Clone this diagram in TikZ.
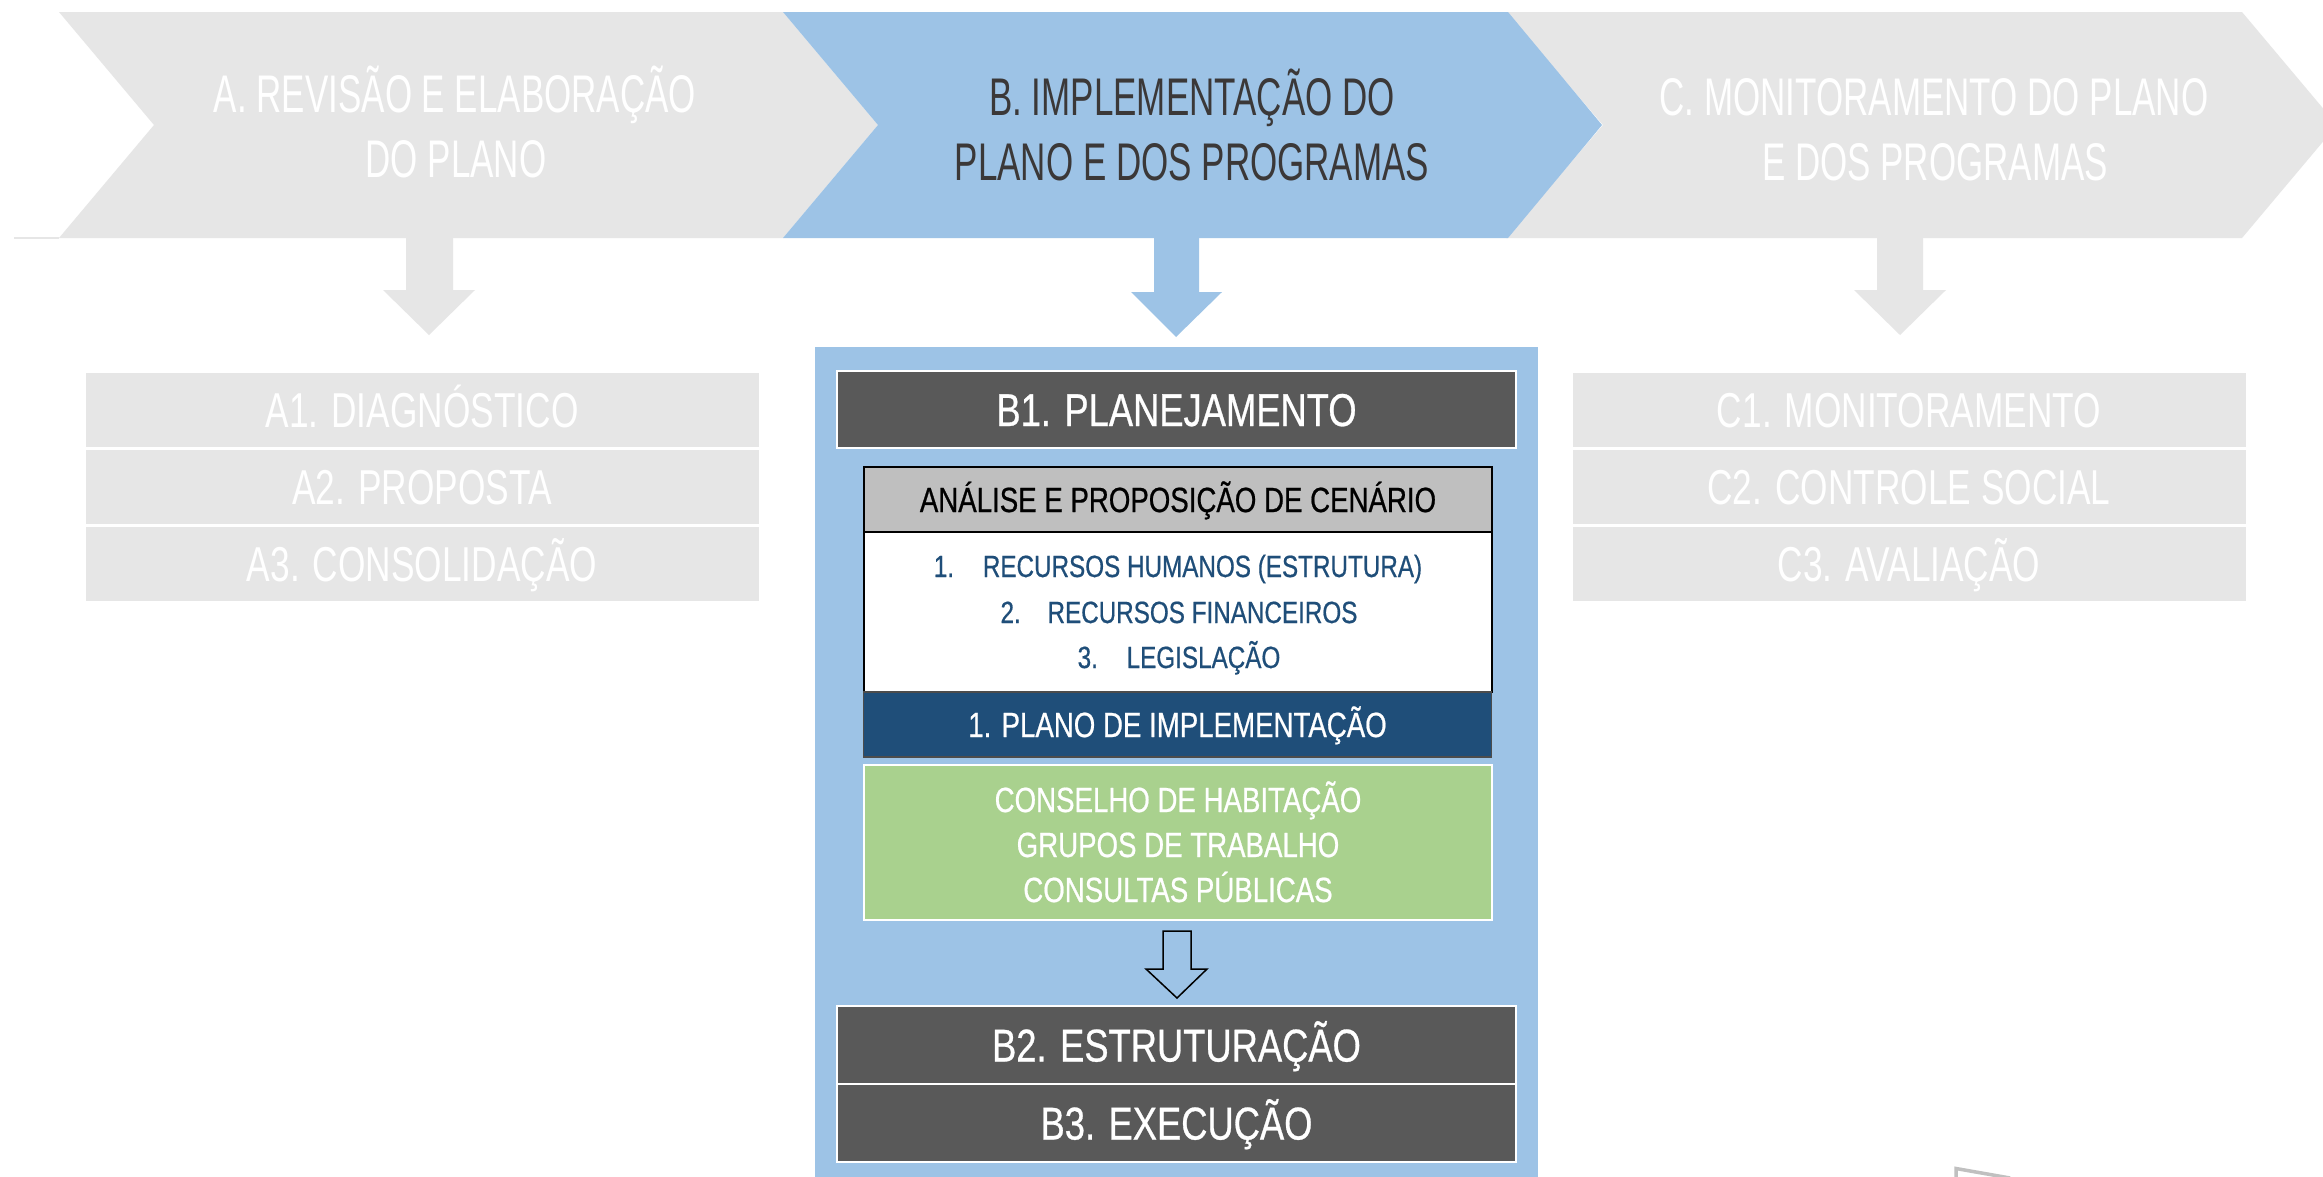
\documentclass[tikz,border=0pt]{standalone}
\usepackage{fontspec}
\setmainfont{Liberation Sans}
\newfontfamily\chevfont[FakeStretch=0.66]{Liberation Sans}
\newfontfamily\boxfont[FakeStretch=0.79,FakeBold=0.6]{Liberation Sans}
\newfontfamily\grayfont[FakeStretch=0.72]{Liberation Sans}
\definecolor{chevgray}{HTML}{E6E6E6}
\definecolor{chevblue}{HTML}{9DC3E6}
\definecolor{darkbox}{HTML}{595959}
\definecolor{headgray}{HTML}{BFBFBF}
\definecolor{navy}{HTML}{1F4E79}
\definecolor{leaf}{HTML}{A9D18E}
\definecolor{chevtext}{HTML}{3B3838}
\definecolor{edgegray}{HTML}{C0C0C0}
\tikzset{
  chevlabel/.style={anchor=base, inner sep=0pt, font=\chevfont\fontsize{53}{53}\selectfont},
  graybox/.style={fill=chevgray, draw=white, line width=3pt, minimum width=676pt, minimum height=77pt,
    inner sep=0pt, text=white, font=\grayfont\fontsize{49}{49}\selectfont, text height=35pt, text depth=0pt},
  darkstage/.style={fill=darkbox, draw=white, line width=2pt, minimum width=679pt, minimum height=77pt,
    inner sep=0pt, text=white, font=\boxfont\fontsize{46}{46}\selectfont, text height=33pt, text depth=0pt},
  innerbox/.style={minimum width=628pt, inner sep=0pt, line width=1.5pt},
  midtext/.style={font=\boxfont\fontsize{35}{35}\selectfont, text height=25pt, text depth=0pt},
  listline/.style={anchor=base, inner sep=0pt, text=navy, font=\boxfont\fontsize{30.7}{30.7}\selectfont},
  greenline/.style={anchor=base, inner sep=0pt, text=white, font=\boxfont\fontsize{35}{35}\selectfont},
}
\begin{document}
\begin{tikzpicture}[x=1pt,y=-1pt]
\useasboundingbox (0,0) rectangle (2323,1176);
\fill[white] (0,0) rectangle (2323,1176);

% chevrons
\draw[chevgray, line width=1.5pt] (14,238) -- (59,238);
\fill[chevgray] (59,12) -- (783,12) -- (878,125) -- (783,238) -- (59,238) -- (154,125) -- cycle;
\fill[chevgray] (1506,12) -- (2242,12) -- (2337,125) -- (2242,238) -- (1506,238) -- (1603,125) -- cycle;
\fill[chevblue] (783,12) -- (1508,12) -- (1602,125) -- (1508,238) -- (783,238) -- (878,125) -- cycle;

\node[chevlabel, text=white] (A1t) at (455,112) {A. REVISÃO E ELABORAÇÃO};
\node[chevlabel, text=white] (A2t) at (456,177) {DO PLANO};
\node[chevlabel, text=chevtext] (B1t) at (1192,115) {B. IMPLEMENTAÇÃO DO};
\node[chevlabel, text=chevtext] (B2t) at (1192,180) {PLANO E DOS PROGRAMAS};
\node[chevlabel, text=white] (C1t) at (1934,115) {C. MONITORAMENTO DO PLANO};
\node[chevlabel, text=white] (C2t) at (1935,180) {E DOS PROGRAMAS};

% down block arrows
\fill[chevgray] (406,237) -- (453,237) -- (453,290) -- (475,290) -- (429,335) -- (383,290) -- (406,290) -- cycle;
\fill[chevblue] (1154,237) -- (1199,237) -- (1199,292) -- (1222,292) -- (1176,337) -- (1131,292) -- (1154,292) -- cycle;
\fill[chevgray] (1877,237) -- (1923,237) -- (1923,290) -- (1946,290) -- (1900,335) -- (1854,290) -- (1877,290) -- cycle;

% column A
\node[graybox] (A1) at (422,410) {A1. DIAGNÓSTICO};
\node[graybox] (A2) at (422,487) {A2. PROPOSTA};
\node[graybox] (A3) at (422,564) {A3. CONSOLIDAÇÃO};

% column C
\node[graybox] (C1) at (1909,410) {C1. MONITORAMENTO};
\node[graybox] (C2) at (1909,487) {C2. CONTROLE SOCIAL};
\node[graybox] (C3) at (1909,564) {C3. AVALIAÇÃO};

% column B panel
\node[fill=chevblue, minimum width=723pt, minimum height=840pt, inner sep=0pt, anchor=north west] (panel) at (815,347) {};
\node[darkstage] (B1) at (1176.5,409.5) {B1. PLANEJAMENTO};
\node[innerbox, fill=headgray, draw=black, minimum height=65pt, midtext, text=black] (head) at (1178,499.5) {ANÁLISE E PROPOSIÇÃO DE CENÁRIO};
\node[innerbox, fill=white, draw=black, minimum height=160pt] (list) at (1178,612) {};
\node[listline] (l1) at (1178,577) {\makebox[49pt][l]{1.}RECURSOS HUMANOS (ESTRUTURA)};
\node[listline] (l2) at (1179,623) {\makebox[47pt][l]{2.}RECURSOS FINANCEIROS};
\node[listline] (l3) at (1179,668) {\makebox[49pt][l]{3.}LEGISLAÇÃO};
\node[innerbox, fill=navy, draw=black!70, minimum height=65pt, midtext, text=white] (plan) at (1177.5,724.5) {1. PLANO DE IMPLEMENTAÇÃO};
\node[innerbox, fill=leaf, draw=white, line width=2pt, minimum height=155pt] (green) at (1177.5,842.5) {};
\node[greenline] (g1) at (1178,812) {CONSELHO DE HABITAÇÃO};
\node[greenline] (g2) at (1178,857) {GRUPOS DE TRABALHO};
\node[greenline] (g3) at (1178,902) {CONSULTAS PÚBLICAS};
\node[darkstage, minimum height=78pt] (B2) at (1176.5,1045) {B2. ESTRUTURAÇÃO};
\node[darkstage, minimum height=78pt] (B3) at (1176.5,1123) {B3. EXECUÇÃO};

% outline arrow from green box to B2
\draw[black, line width=1.5pt, line join=miter] (1163,931) -- (1191,931) -- (1191,969) -- (1207,969) -- (1177,998) -- (1146,969) -- (1163,969) -- cycle;

% partial edge at bottom right
\draw[edgegray, line width=3.5pt] (1956,1180) -- (1956,1168.5) -- (2010,1178);
\end{tikzpicture}
\end{document}
